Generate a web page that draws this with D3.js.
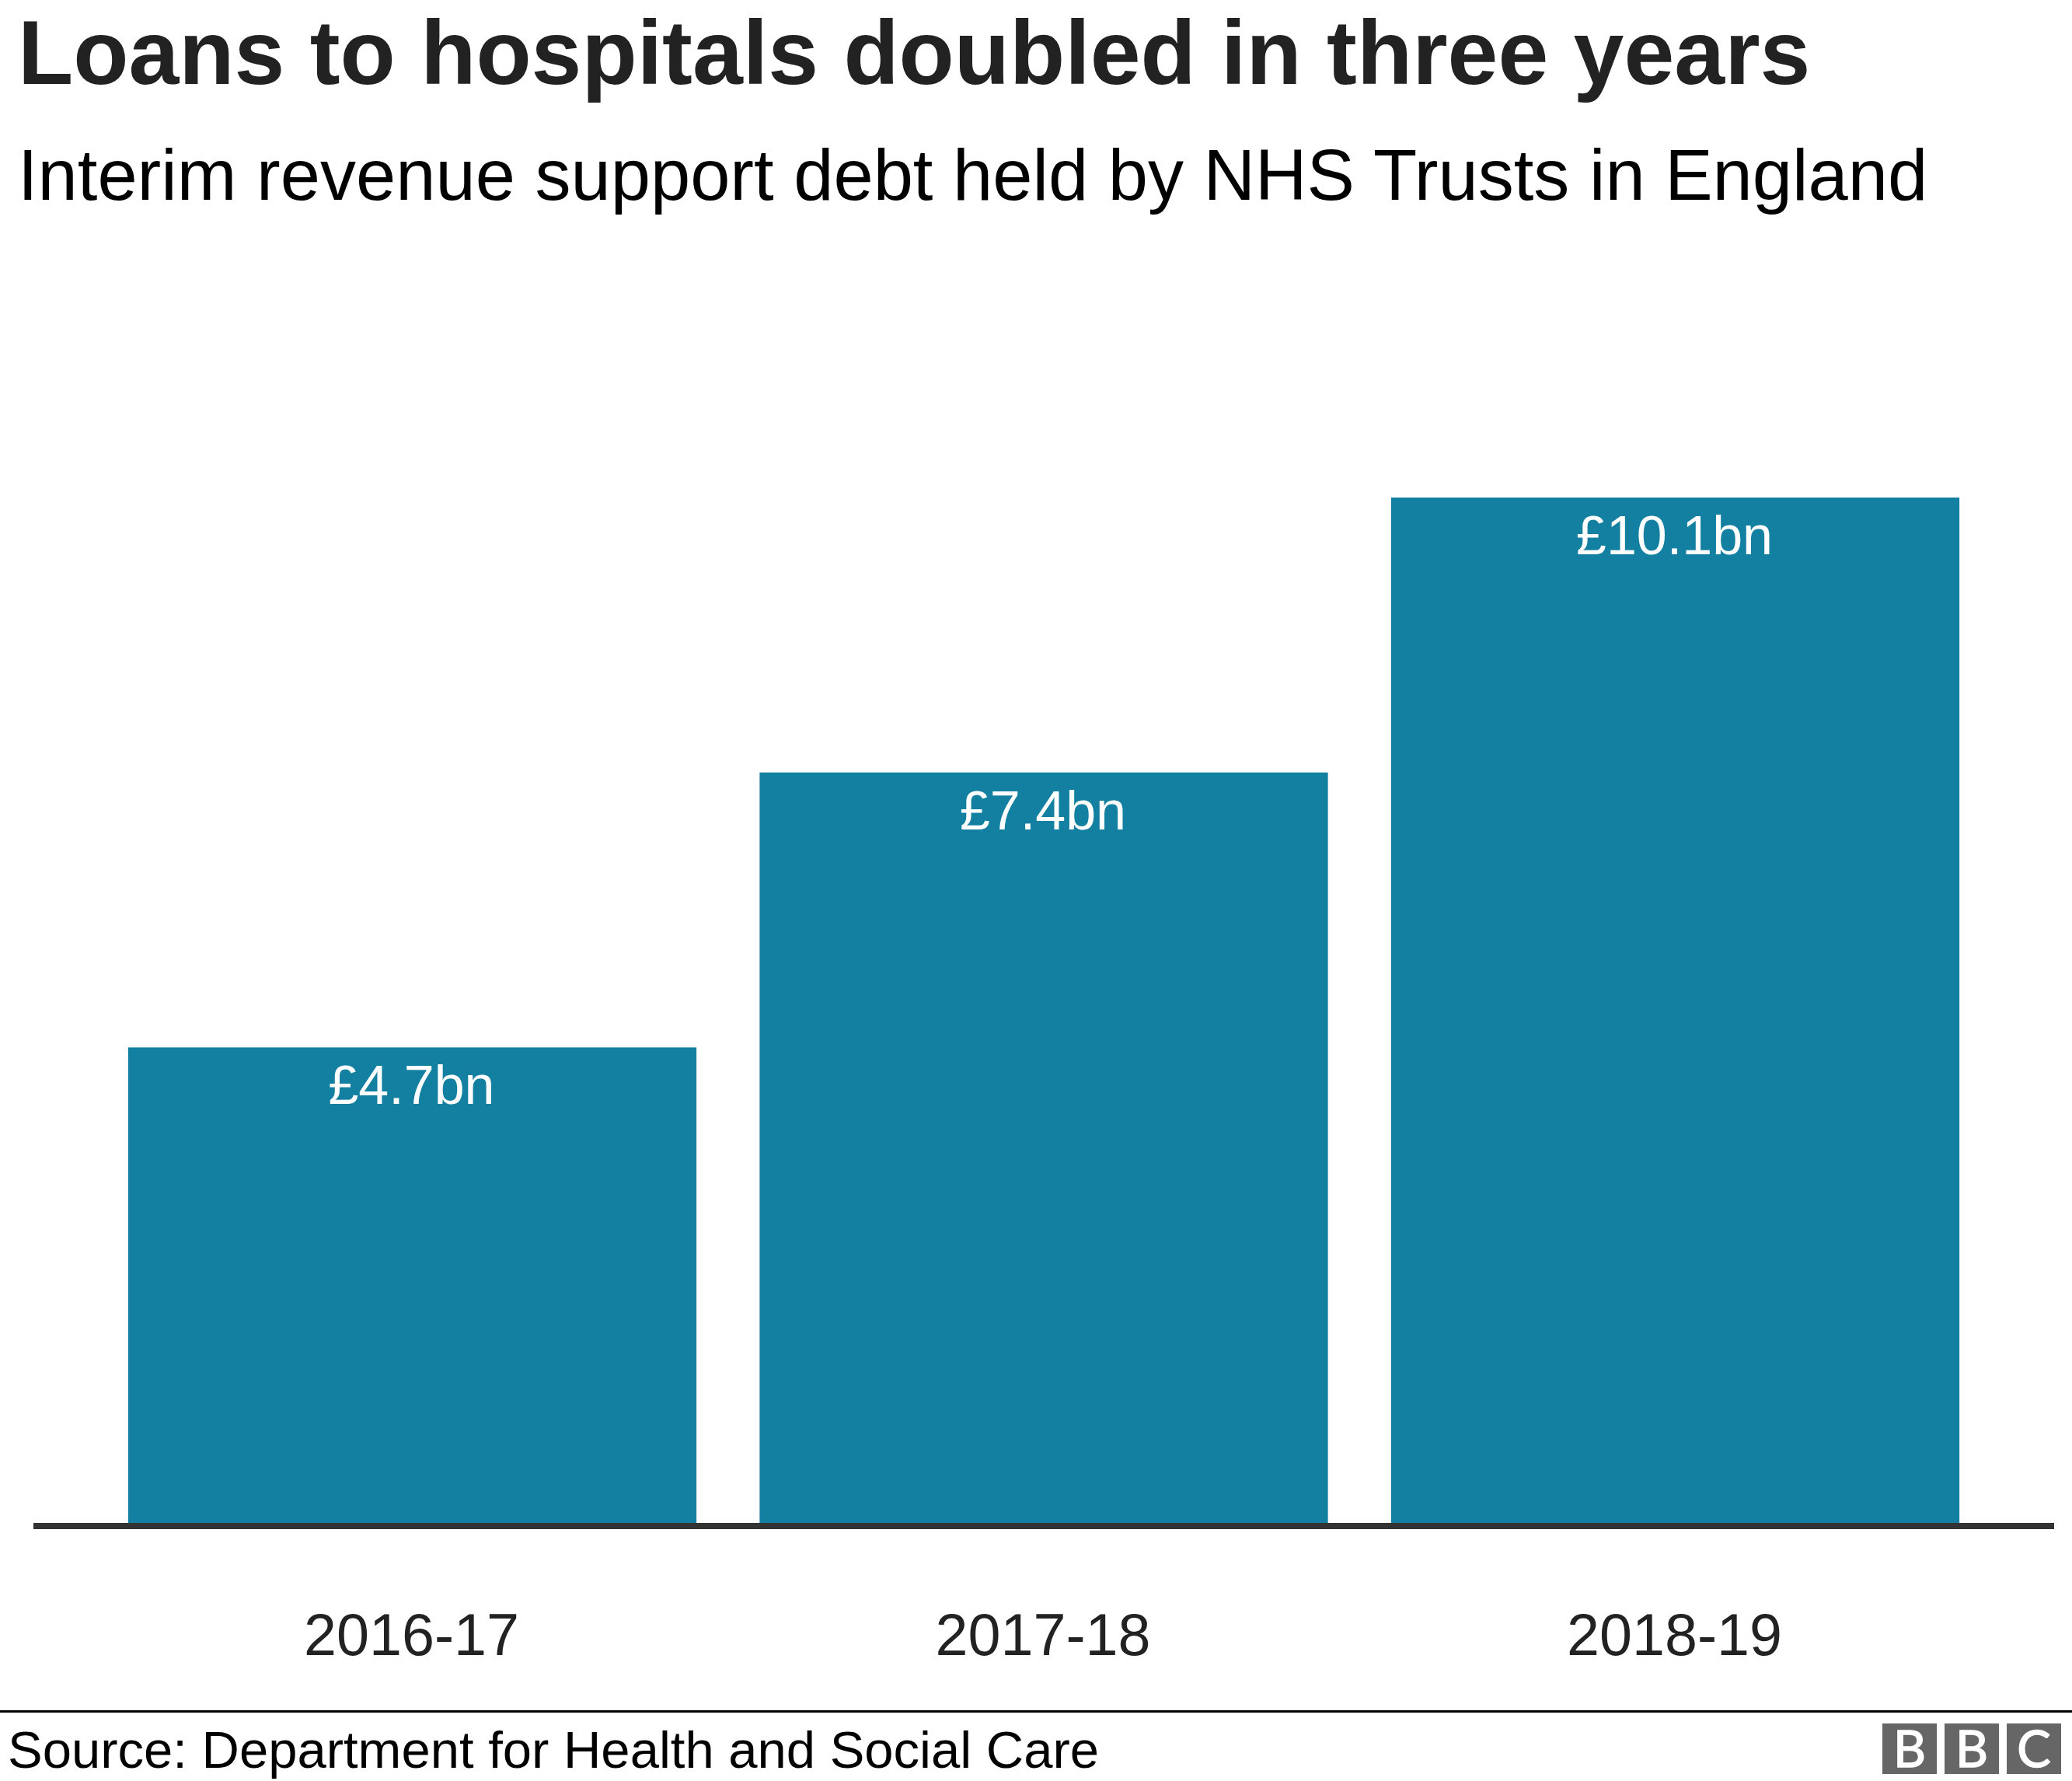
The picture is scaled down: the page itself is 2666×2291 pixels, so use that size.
<!DOCTYPE html>
<html>
<head>
<meta charset="utf-8">
<script src="https://cdn.jsdelivr.net/npm/d3@7"></script>
<style>
html,body{margin:0;padding:0;background:#fff}
svg{display:block}
text{font-family:"Liberation Sans",Arial,sans-serif}
</style>
</head>
<body>
<script>
const categories = ["2016-17","2017-18","2018-19"];
const values = [4.7,7.4,10.1];
const valueLabels = ["£4.7bn","£7.4bn","£10.1bn"];
const titleText = "Loans to hospitals doubled in three years";
const subtitleText = "Interim revenue support debt held by NHS Trusts in England";
const sourceText = "Source: Department for Health and Social Care";
const logoLetters = ["B","B","C"];

const W = 2666, H = 2291;
const svg = d3.select("body").append("svg").attr("width",W).attr("height",H).attr("viewBox",`0 0 ${W} ${H}`);
svg.append("rect").attr("width",W).attr("height",H).attr("fill","#fff");

const x = d3.scaleBand().domain(categories).range([43,2643]).paddingInner(0.1).paddingOuter(0.15);
const y = d3.scaleLinear().domain([0,10.1]).range([1963,640]);

svg.append("text").attr("x",23).attr("y",108).attr("font-size",116.6).attr("font-weight",700).attr("fill","#222222").text(titleText);
svg.append("text").attr("x",23).attr("y",257).attr("font-size",92.1).attr("fill","#000").text(subtitleText);

svg.selectAll("rect.bar").data(values).join("rect").attr("class","bar")
  .attr("x",(d,i)=>x(categories[i])).attr("width",x.bandwidth())
  .attr("y",d=>y(d)).attr("height",d=>y(0)-y(d)).attr("fill","#1380A1");

svg.selectAll("text.val").data(values).join("text").attr("class","val")
  .attr("x",(d,i)=>x(categories[i])+x.bandwidth()/2-1).attr("y",d=>y(d)+73)
  .attr("text-anchor","middle").attr("font-size",70).attr("fill","#fff")
  .text((d,i)=>valueLabels[i]);

const axis = svg.append("g").attr("transform",`translate(0,${y(0)})`)
  .call(d3.axisBottom(x).offset(0).tickSize(0).tickPadding(166).tickSizeOuter(0));
axis.select(".domain").attr("stroke","#333333").attr("stroke-width",8);
axis.selectAll("text").attr("font-size",75.5).attr("font-family","'Liberation Sans',Arial,sans-serif").attr("fill","#222222").attr("dy",0).attr("dx",-1);

svg.append("rect").attr("x",0).attr("y",2200).attr("width",W).attr("height",3).attr("fill","#000");
svg.append("text").attr("x",10).attr("y",2274).attr("font-size",67).attr("fill","#000").text(sourceText);

const logo = svg.append("g");
const logoX = d3.scalePoint().domain([0,1,2]).range([2422,2582]);
logoLetters.forEach((l,i)=>{
  logo.append("rect").attr("x",logoX(i)).attr("y",2217).attr("width",70).attr("height",65).attr("fill","#666666");
  logo.append("text").attr("x",logoX(i)+35).attr("y",2273).attr("text-anchor","middle").attr("font-size",65)
    .attr("fill","#fff").attr("stroke","#fff").attr("stroke-width",1.5).style("font-family","Lato").text(l);
});
</script>
</body>
</html>
